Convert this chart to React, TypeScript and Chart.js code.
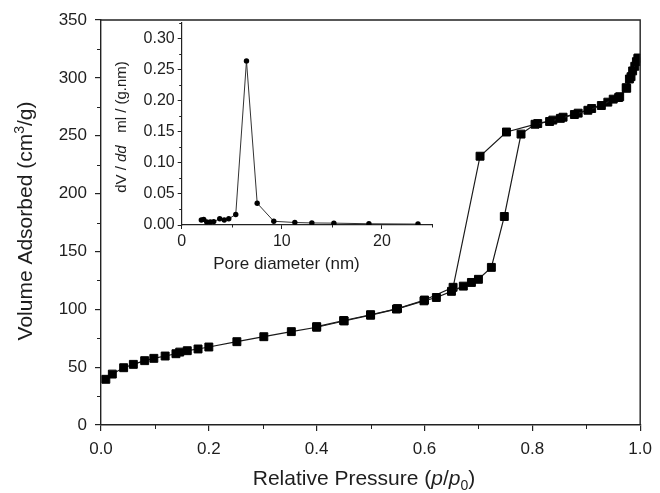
import React, { useEffect, useRef } from "react";
import { Chart, registerables } from "chart.js";

Chart.register(...registerables);

// ---- Data ----
const adsorptionP = [
  0.009, 0.021, 0.042, 0.06, 0.081, 0.098, 0.119, 0.139, 0.146, 0.16, 0.18, 0.2,
  0.252, 0.302, 0.353, 0.4, 0.451, 0.5, 0.548, 0.599, 0.622, 0.65, 0.672, 0.687,
  0.7, 0.724, 0.748, 0.779, 0.805, 0.832, 0.852, 0.878, 0.903, 0.928, 0.95, 0.962,
  0.974, 0.98, 0.986, 0.993, 0.996,
];
const adsorptionV = [
  39.5, 44, 49.5, 52.4, 55.6, 57.6, 59.6, 61.6, 63, 64.2, 65.7, 67.4,
  72, 76.3, 80.7, 84.5, 89.9, 94.9, 100.2, 107.3, 110.2, 115.5, 120, 123.2,
  125.9, 136.2, 180.2, 251.4, 259.9, 262.3, 265, 268.3, 272, 276.1, 281.6, 283.7,
  291.5, 299, 306, 314, 317,
];
const desorptionP = [
  0.996, 0.99, 0.983, 0.975, 0.96, 0.94, 0.91, 0.885, 0.857, 0.838, 0.81,
  0.752, 0.703, 0.653, 0.6, 0.55, 0.5, 0.45, 0.4,
];
const desorptionV = [
  317, 310, 301, 291, 283, 279, 273.5, 269.5, 266, 263.5, 260.5,
  253.2, 232.3, 119, 108, 100.6, 95.3, 90.3, 85,
];
const poreDiameter = [
  1.96, 2.2, 2.5, 2.85, 3.2, 3.8, 4.25, 4.7, 5.4, 6.47, 7.54, 9.2, 11.3, 13.0,
  15.2, 18.7, 23.6,
];
const poreVolume = [
  0.008, 0.009, 0.005, 0.005, 0.0055, 0.01, 0.008, 0.01, 0.017, 0.264, 0.035,
  0.006, 0.004, 0.0033, 0.003, 0.002, 0.0015,
];

const mainXTicks = [0, 0.2, 0.4, 0.6, 0.8, 1.0];
const mainYTicks = [0, 50, 100, 150, 200, 250, 300, 350];
const mainXMinor = [0.1, 0.3, 0.5, 0.7, 0.9];
const mainYMinor = [25, 75, 125, 175, 225, 275, 325];
const insetXTicks = [0, 10, 20];
const insetYTicks = [0, 0.05, 0.1, 0.15, 0.2, 0.25, 0.3];
const insetXMinor = [5, 15, 25];
const insetYMinor = [0.025, 0.075, 0.125, 0.175, 0.225, 0.275, 0.325];

const FAMILY = '"Liberation Sans", Arial, Helvetica, sans-serif';
const TEXT = "#1e1e1e";

type Seg = { t: string; i?: boolean; sup?: boolean; sub?: boolean };

function drawRich(
  ctx: CanvasRenderingContext2D,
  segs: Seg[],
  x: number,
  y: number,
  size: number,
  rotate: boolean
) {
  ctx.save();
  ctx.translate(x, y);
  if (rotate) ctx.rotate(-Math.PI / 2);
  const fontFor = (s: Seg) =>
    `${s.i ? "italic " : ""}${s.sup || s.sub ? Math.round(size * 0.65) : size}px ${FAMILY}`;
  let total = 0;
  const widths = segs.map((s) => {
    ctx.font = fontFor(s);
    const w = ctx.measureText(s.t).width;
    total += w;
    return w;
  });
  let cx = -total / 2;
  ctx.fillStyle = TEXT;
  ctx.textBaseline = "alphabetic";
  ctx.textAlign = "left";
  segs.forEach((s, k) => {
    ctx.font = fontFor(s);
    const dy = s.sup ? -size * 0.4 : s.sub ? size * 0.22 : 0;
    ctx.fillText(s.t, cx, dy);
    cx += widths[k];
  });
  ctx.restore();
}

type Deco = {
  box: boolean;
  xMinor: number[];
  yMinor: number[];
  minorLen: number;
  lineColor: string;
  lineWidth: number;
  titles: { segs: Seg[]; x: number; y: number; size: number; rotate: boolean }[];
};

function decoPlugin(d: Deco) {
  return {
    id: "deco",
    afterDraw(chart: any) {
      const ctx: CanvasRenderingContext2D = chart.ctx;
      const a = chart.chartArea;
      const xs = chart.scales.x;
      const ys = chart.scales.y;
      ctx.save();
      ctx.strokeStyle = d.lineColor;
      ctx.lineWidth = d.lineWidth;
      if (d.box) {
        ctx.beginPath();
        ctx.moveTo(a.left, a.top);
        ctx.lineTo(a.right, a.top);
        ctx.lineTo(a.right, a.bottom);
        ctx.stroke();
      }
      ctx.lineWidth = 1;
      ctx.beginPath();
      d.xMinor.forEach((v) => {
        const px = Math.round(xs.getPixelForValue(v)) + 0.5;
        ctx.moveTo(px, a.bottom);
        ctx.lineTo(px, a.bottom + d.minorLen);
      });
      d.yMinor.forEach((v) => {
        const py = Math.round(ys.getPixelForValue(v)) + 0.5;
        ctx.moveTo(a.left, py);
        ctx.lineTo(a.left - d.minorLen, py);
      });
      ctx.stroke();
      ctx.restore();
      d.titles.forEach((t) => drawRich(ctx, t.segs, t.x, t.y, t.size, t.rotate));
    },
  };
}

function MainChart() {
  const ref = useRef<HTMLCanvasElement>(null);
  useEffect(() => {
    const canvas = ref.current!;
    const ads = adsorptionP.map((p, k) => ({ x: p, y: adsorptionV[k] }));
    const des = desorptionP.map((p, k) => ({ x: p, y: desorptionV[k] }));
    const ds = (label: string, data: any[]) => ({
      label,
      data,
      borderColor: "#1a1a1a",
      borderWidth: 1.2,
      backgroundColor: "#000",
      pointBackgroundColor: "#000",
      pointBorderColor: "#000",
      pointBorderWidth: 1,
      pointStyle: "rect",
      pointRadius: 5.6,
      showLine: true,
      tension: 0,
    });
    const chart = new Chart(canvas, {
      type: "line",
      data: { datasets: [ds("Adsorption", ads), ds("Desorption", des)] },
      plugins: [
        decoPlugin({
          box: true,
          xMinor: mainXMinor,
          yMinor: mainYMinor,
          minorLen: 4,
          lineColor: "#222",
          lineWidth: 1.4,
          titles: [
            {
              segs: [
                { t: "Relative Pressure (" },
                { t: "p", i: true },
                { t: "/" },
                { t: "p", i: true },
                { t: "0", sub: true },
                { t: ")" },
              ],
              x: 364,
              y: 485,
              size: 21,
              rotate: false,
            },
            {
              segs: [{ t: "Volume Adsorbed (cm" }, { t: "3", sup: true }, { t: "/g)" }],
              x: 32,
              y: 221,
              size: 21,
              rotate: true,
            },
          ],
        }) as any,
      ],
      options: {
        responsive: false,
        animation: false,
        devicePixelRatio: 1,
        layout: { padding: { left: 0, top: 20, right: 16, bottom: 0 } },
        plugins: { legend: { display: false }, tooltip: { enabled: false } },
        scales: {
          x: {
            type: "linear",
            min: 0,
            max: 1,
            afterBuildTicks: (s: any) => {
              s.ticks = mainXTicks.map((v) => ({ value: v }));
            },
            afterFit: (s: any) => {
              s.height = 68;
            },
            ticks: {
              autoSkip: false,
              maxRotation: 0,
              padding: 8,
              color: TEXT,
              font: { family: FAMILY, size: 17 },
              callback: (v: any) => Number(v).toFixed(1),
            },
            grid: {
              display: true,
              drawOnChartArea: false,
              drawTicks: true,
              tickLength: 6,
              color: "#222",
              lineWidth: 1.2,
            },
            border: { display: true, color: "#222", width: 1.4 },
          },
          y: {
            type: "linear",
            min: 0,
            max: 350,
            afterBuildTicks: (s: any) => {
              s.ticks = mainYTicks.map((v) => ({ value: v }));
            },
            afterFit: (s: any) => {
              s.width = 101;
            },
            ticks: {
              autoSkip: false,
              padding: 8,
              color: TEXT,
              font: { family: FAMILY, size: 17 },
              callback: (v: any) => String(Math.round(Number(v))),
            },
            grid: {
              display: true,
              drawOnChartArea: false,
              drawTicks: true,
              tickLength: 6,
              color: "#222",
              lineWidth: 1.2,
            },
            border: { display: true, color: "#222", width: 1.4 },
          },
        },
      } as any,
    });
    return () => chart.destroy();
  }, []);
  return (
    <canvas
      ref={ref}
      width={660}
      height={493}
      style={{ position: "absolute", left: 0, top: 0, width: 660, height: 493 }}
    />
  );
}

function InsetChart() {
  const ref = useRef<HTMLCanvasElement>(null);
  useEffect(() => {
    const canvas = ref.current!;
    const pts = poreDiameter.map((d, k) => ({ x: d, y: poreVolume[k] }));
    const chart = new Chart(canvas, {
      type: "line",
      data: {
        datasets: [
          {
            label: "PSD",
            data: pts,
            borderColor: "#333",
            borderWidth: 1,
            pointBackgroundColor: "#000",
            pointBorderColor: "#000",
            pointBorderWidth: 0,
            pointRadius: 2.7,
            pointStyle: "circle",
            tension: 0,
          },
        ],
      },
      plugins: [
        decoPlugin({
          box: false,
          xMinor: insetXMinor,
          yMinor: insetYMinor,
          minorLen: 2.5,
          lineColor: "#222",
          lineWidth: 1.2,
          titles: [
            {
              segs: [{ t: "Pore diameter (nm)" }],
              x: 186.5,
              y: 269,
              size: 17,
              rotate: false,
            },
            {
              segs: [{ t: "dV / " }, { t: "dd", i: true }, { t: "   ml / (g.nm)" }],
              x: 26,
              y: 127,
              size: 15,
              rotate: true,
            },
          ],
        }) as any,
      ],
      options: {
        responsive: false,
        animation: false,
        devicePixelRatio: 1,
        layout: { padding: { left: 0, top: 23, right: 18, bottom: 0 } },
        plugins: { legend: { display: false }, tooltip: { enabled: false } },
        scales: {
          x: {
            type: "linear",
            min: 0,
            max: 25,
            afterBuildTicks: (s: any) => {
              s.ticks = insetXTicks.map((v) => ({ value: v }));
            },
            afterFit: (s: any) => {
              s.height = 55;
            },
            ticks: {
              autoSkip: false,
              maxRotation: 0,
              padding: 3,
              color: TEXT,
              font: { family: FAMILY, size: 16 },
              callback: (v: any) => String(Math.round(Number(v))),
            },
            grid: {
              display: true,
              drawOnChartArea: false,
              drawTicks: true,
              tickLength: 4,
              color: "#222",
              lineWidth: 1,
            },
            border: { display: true, color: "#222", width: 1.2 },
          },
          y: {
            type: "linear",
            min: 0,
            max: 0.325,
            afterBuildTicks: (s: any) => {
              s.ticks = insetYTicks.map((v) => ({ value: v }));
            },
            afterFit: (s: any) => {
              s.width = 81.7;
            },
            ticks: {
              autoSkip: false,
              padding: 3,
              color: TEXT,
              font: { family: FAMILY, size: 16 },
              callback: (v: any) => Number(v).toFixed(2),
            },
            grid: {
              display: true,
              drawOnChartArea: false,
              drawTicks: true,
              tickLength: 4,
              color: "#222",
              lineWidth: 1,
            },
            border: { display: true, color: "#222", width: 1.2 },
          },
        },
      } as any,
    });
    return () => chart.destroy();
  }, []);
  return (
    <canvas
      ref={ref}
      width={350}
      height={280}
      style={{ position: "absolute", left: 100, top: 0, width: 350, height: 280 }}
    />
  );
}

export default function App() {
  return (
    <div
      style={{
        position: "absolute",
        left: 0,
        top: 0,
        width: 660,
        height: 493,
        background: "#fff",
        overflow: "hidden",
      }}
    >
      <MainChart />
      <InsetChart />
    </div>
  );
}
